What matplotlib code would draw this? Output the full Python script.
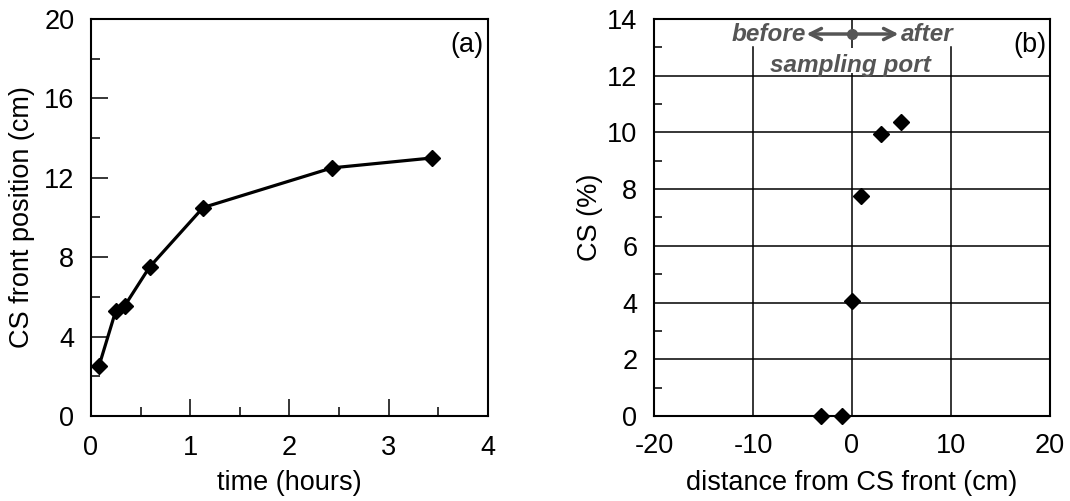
import matplotlib.pyplot as plt
from matplotlib.ticker import MultipleLocator
from matplotlib.patches import Rectangle

plt.rcParams['font.family'] = ['Liberation Sans', 'DejaVu Sans']
plt.rcParams['font.size'] = 19.5
plt.rcParams['axes.unicode_minus'] = False

# panel (a): CS front position vs time
time_h = [0.08, 0.25, 0.34, 0.59, 1.13, 2.43, 3.44]
front_cm = [2.5, 5.3, 5.55, 7.5, 10.5, 12.5, 13.0]

# panel (b): CS vs distance from front
dist_cm = [-3.1, -1.05, 0.0, 0.95, 2.95, 5.0]
cs_pct = [0.0, 0.0, 4.05, 7.75, 9.95, 10.35]

fig = plt.figure(figsize=(10.7, 5.01), dpi=100)
ax1 = fig.add_axes([0.0850, 0.1697, 0.3710, 0.7924])
ax2 = fig.add_axes([0.6112, 0.1697, 0.3701, 0.7924])

# ---------- (a) ----------
ax1.plot(time_h, front_cm, color='black', lw=2.3, marker='D', ms=8.6,
         mfc='black', mec='black', zorder=3)
ax1.set_xlim(0, 4)
ax1.set_ylim(0, 20)
ax1.xaxis.set_major_locator(MultipleLocator(1))
ax1.xaxis.set_minor_locator(MultipleLocator(0.5))
ax1.yaxis.set_major_locator(MultipleLocator(4))
ax1.yaxis.set_minor_locator(MultipleLocator(2))
ax1.tick_params(which='major', direction='in', length=12.5, width=1.1)
ax1.tick_params(which='minor', direction='in', length=6.5, width=1.1)
ax1.tick_params(axis='x', which='major', pad=14)
ax1.tick_params(axis='y', which='major', pad=12)
for s in ax1.spines.values():
    s.set_linewidth(1.5)
ax1.set_xlabel('time (hours)')
ax1.set_ylabel('CS front position (cm)')
ax1.xaxis.set_label_coords(0.5, -0.135)
ax1.yaxis.set_label_coords(-0.14, 0.5)
ax1.text(0.99, 0.968, '(a)', transform=ax1.transAxes, ha='right', va='top')

# ---------- (b) ----------
ax2.set_xlim(-20, 20)
ax2.set_ylim(0, 14)
ax2.xaxis.set_major_locator(MultipleLocator(10))
ax2.yaxis.set_major_locator(MultipleLocator(2))
ax2.yaxis.set_minor_locator(MultipleLocator(1))
ax2.tick_params(which='major', length=0)
ax2.tick_params(axis='y', which='minor', direction='in', length=6, width=1.1)
ax2.tick_params(axis='x', which='major', pad=12)
ax2.tick_params(axis='y', which='major', pad=12)
for s in ax2.spines.values():
    s.set_linewidth(1.5)

for yv in range(2, 14, 2):
    ax2.axhline(yv, color='black', lw=1.1, zorder=1)
for xv in [-10, 10]:
    ax2.axvline(xv, ymax=13 / 14, color='black', lw=1.1, zorder=1)
ax2.axvline(0, color='black', lw=1.1, zorder=1)

# white box behind "sampling port"
ax2.add_patch(Rectangle((-8.4, 12.1), 16.4, 0.88, facecolor='white',
                        edgecolor='none', zorder=2))
ax2.text(-0.2, 12.37, 'sampling port', ha='center', va='center',
         fontsize=17.5, fontweight='bold', fontstyle='italic', color='#555555',
         zorder=4)
ax2.text(-4.6, 13.45, 'before', ha='right', va='center', fontsize=17.5,
         fontweight='bold', fontstyle='italic', color='#555555', zorder=4)
ax2.text(4.9, 13.45, 'after', ha='left', va='center', fontsize=17.5,
         fontweight='bold', fontstyle='italic', color='#555555', zorder=4)
ax2.annotate('', xy=(-4.6, 13.47), xytext=(4.7, 13.47),
             arrowprops=dict(arrowstyle='<->', color='#555555', lw=2.5,
                             mutation_scale=20, shrinkA=0, shrinkB=0),
             zorder=4)
ax2.plot([0], [13.47], marker='o', ms=7, color='#555555', zorder=5)

ax2.plot(dist_cm, cs_pct, linestyle='none', marker='D', ms=8,
         mfc='black', mec='black', zorder=6, clip_on=False)
ax2.set_xlabel('distance from CS front (cm)')
ax2.set_ylabel('CS (%)')
ax2.xaxis.set_label_coords(0.5, -0.135)
ax2.yaxis.set_label_coords(-0.13, 0.5)
ax2.text(0.99, 0.968, '(b)', transform=ax2.transAxes, ha='right', va='top')

fig.savefig('out.png', dpi=100)
